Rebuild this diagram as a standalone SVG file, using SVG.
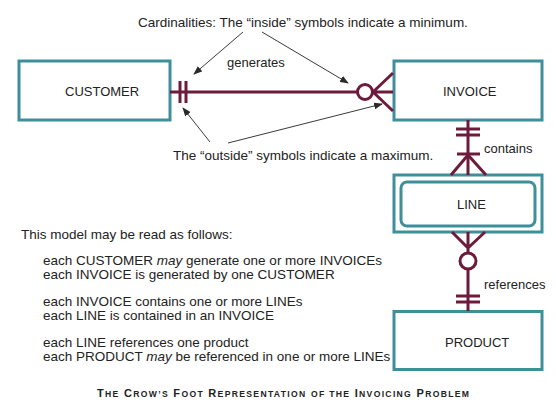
<svg xmlns="http://www.w3.org/2000/svg" width="556" height="402" viewBox="0 0 556 402">
<defs>
<style>
.box{fill:#fff;stroke:#3f8f9b;stroke-width:3}
.rel{fill:none;stroke:#6d1b3b;stroke-width:3}
.circ{fill:#fff;stroke:#6d1b3b;stroke-width:3}
.ann{fill:none;stroke:#3a3a3a;stroke-width:1}
.lbl{font-family:"Liberation Sans",Arial,sans-serif;font-size:13px;fill:#222}
.txt{font-family:"Liberation Sans",Arial,sans-serif;font-size:13.5px;fill:#222}
.ttl{font-family:"Liberation Sans",Arial,sans-serif;font-size:11px;font-weight:bold;fill:#222}
.sc{font-size:8.6px}
</style>
<marker id="ah" markerUnits="userSpaceOnUse" markerWidth="9" markerHeight="7" refX="8" refY="3.5" orient="auto">
<path d="M0,0 L9,3.5 L0,7 z" fill="#2a2a2a"/>
</marker>
</defs>
<rect width="556" height="402" fill="#fff"/>

<g id="customer">
<rect class="box" x="19" y="61" width="151" height="59"/>
<text class="lbl" x="65" y="96">CUSTOMER</text>
</g>
<g id="invoice">
<rect class="box" x="394" y="61" width="148" height="59"/>
<text class="lbl" x="443" y="96">INVOICE</text>
</g>
<g id="line">
<rect class="box" x="394" y="175" width="148" height="57"/>
<rect class="box" x="401" y="182" width="134" height="44" rx="6"/>
<text class="lbl" x="457" y="209">LINE</text>
</g>
<g id="product">
<rect class="box" x="394" y="311.5" width="148" height="58"/>
<text class="lbl" x="445" y="347">PRODUCT</text>
</g>

<g id="connectors">
<!-- customer - invoice -->
<line class="rel" x1="170" y1="92" x2="357.5" y2="92"/>
<line class="rel" x1="180" y1="81" x2="180" y2="103"/>
<line class="rel" x1="186" y1="81" x2="186" y2="103"/>
<circle class="circ" cx="365" cy="92" r="7.5"/>
<path class="rel" d="M372.5,92 L393,92 M373,92 L393,73 M373,92 L393,111"/>
<text class="lbl" x="227" y="67">generates</text>
<!-- invoice - line -->
<line class="rel" x1="468" y1="120" x2="468" y2="175"/>
<line class="rel" x1="456" y1="129" x2="480" y2="129"/>
<line class="rel" x1="456" y1="135" x2="480" y2="135"/>
<line class="rel" x1="457" y1="154" x2="480" y2="154"/>
<path class="rel" d="M468,155 L451,175 M468,155 L486,175"/>
<text class="lbl" x="484" y="153">contains</text>
<!-- line - product -->
<path class="rel" d="M452,232 L468,248 L485,232 M468,232 L468,253"/>
<circle class="circ" cx="468" cy="261" r="8"/>
<line class="rel" x1="468" y1="269" x2="468" y2="311"/>
<line class="rel" x1="456" y1="296" x2="480" y2="296"/>
<line class="rel" x1="456" y1="302" x2="480" y2="302"/>
<text class="lbl" x="484" y="289">references</text>
<!-- annotation arrows -->
<line class="ann" x1="243" y1="32" x2="194" y2="74" marker-end="url(#ah)"/>
<line class="ann" x1="262" y1="32" x2="348" y2="83" marker-end="url(#ah)"/>
<line class="ann" x1="210" y1="142" x2="183" y2="108" marker-end="url(#ah)"/>
<line class="ann" x1="228" y1="143" x2="382" y2="104" marker-end="url(#ah)"/>
</g>

<g id="notes">
<text class="txt" x="138" y="27">Cardinalities: The “inside” symbols indicate a minimum.</text>
<text class="txt" x="173" y="160">The “outside” symbols indicate a maximum.</text>
<text class="txt" x="21" y="239">This model may be read as follows:</text>
<text class="txt" x="43" y="265">each CUSTOMER <tspan font-style="italic">may</tspan> generate one or more INVOICEs</text>
<text class="txt" x="43" y="279">each INVOICE is generated by one CUSTOMER</text>
<text class="txt" x="43" y="306">each INVOICE contains one or more LINEs</text>
<text class="txt" x="43" y="320">each LINE is contained in an INVOICE</text>
<text class="txt" x="43" y="347">each LINE references one product</text>
<text class="txt" x="43" y="361">each PRODUCT <tspan font-style="italic">may</tspan> be referenced in one or more LINEs</text>
<text class="ttl" x="97" y="397" textLength="372" lengthAdjust="spacing">T<tspan class="sc">HE</tspan> C<tspan class="sc">ROW’S</tspan> F<tspan class="sc">OOT</tspan> R<tspan class="sc">EPRESENTATION</tspan> <tspan class="sc">OF THE</tspan> I<tspan class="sc">NVOICING</tspan> P<tspan class="sc">ROBLEM</tspan></text>
</g>
</svg>
